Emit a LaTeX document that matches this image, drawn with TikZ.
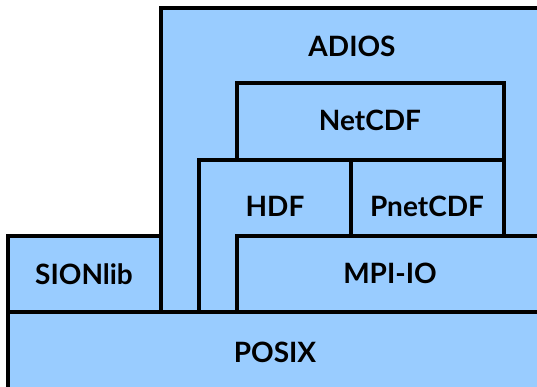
\documentclass[tikz,border=0pt]{standalone}
\usepackage{fontspec}
\setmainfont{Lato}
\usepackage{tikz}
\usetikzlibrary{positioning}

\definecolor{layerblue}{RGB}{153,204,255}

\begin{document}
\begin{tikzpicture}[
        x=1pt, y=-1pt,
        layer/.style = {fill=layerblue, draw=black, line width=3.5pt, line join=miter},
        lbl/.style = {font=\fontsize{28}{32}\selectfont\bfseries, inner sep=0pt}
        ]
        \useasboundingbox (0,0) rectangle (537,387);
        \clip (0,0) rectangle (537,387);

        % stack of I/O layers, bottom to top
        \draw[layer] (8,312) rectangle (560,410);
        \draw[layer] (8,236) rectangle (161,312);
        \draw[layer] (161,8) rectangle (560,312);
        \draw[layer] (237,83) rectangle (504,160);
        \draw[layer] (199,160) rectangle (351,312);
        \draw[layer] (351,160) rectangle (504,236);
        \draw[layer] (237,236) rectangle (560,312);

        \node[lbl] (posix)   at (275,352) {POSIX};
        \node[lbl] (sionlib) at (84,274)  {SIONlib};
        \node[lbl] (adios)   at (352,46)  {ADIOS};
        \node[lbl] (netcdf)  at (370,120) {NetCDF};
        \node[lbl] (hdf)     at (275,206) {HDF};
        \node[lbl] (pnetcdf) at (427,206) {PnetCDF};
        \node[lbl] (mpiio)   at (390,273) {MPI-IO};
    \end{tikzpicture}
\end{document}
